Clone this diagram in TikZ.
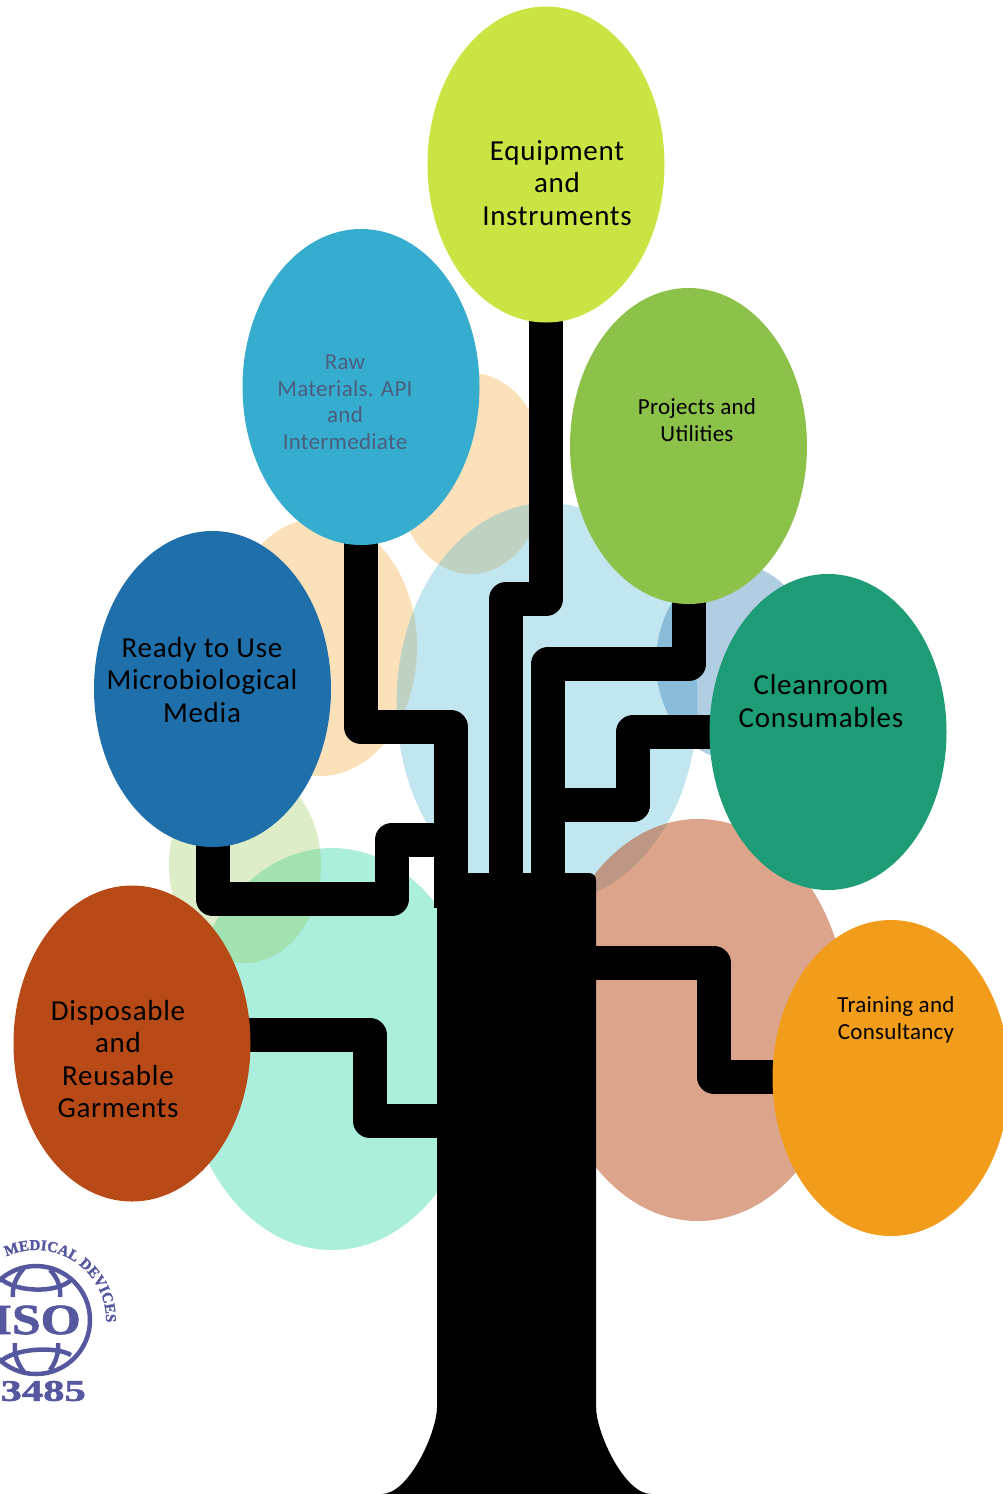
\documentclass[tikz,border=0pt]{standalone}
\usepackage{fontspec}
\setmainfont{Carlito}[LetterSpace=2.5]
\newfontfamily\smallfont{Carlito}[LetterSpace=1.2]
\newfontfamily\isofont{Liberation Serif}[BoldFeatures={FakeBold=1.5}]
\usetikzlibrary{backgrounds,decorations.text,shapes.geometric}
\definecolor{equipcol}{HTML}{CBE444}
\definecolor{rawcol}{HTML}{36ACCE}
\definecolor{projcol}{HTML}{8CC24A}
\definecolor{readycol}{HTML}{1F6FAB}
\definecolor{cleancol}{HTML}{1E9C78}
\definecolor{dispcol}{HTML}{B84A18}
\definecolor{traincol}{HTML}{F29C1B}
\definecolor{mintcol}{HTML}{30D5A8}
\definecolor{isocol}{HTML}{55589F}
\definecolor{dimcol}{HTML}{4A5F80}
\tikzstyle{leaf} = [draw=none,ellipse,inner sep=0pt,minimum width=237pt,minimum height=316pt]
\tikzstyle{shade} = [draw=none,ellipse,inner sep=0pt,fill opacity=0.3]
\tikzstyle{branch} = [line width=34pt,line join=round,black]
\tikzstyle{bigtext} = [align=center,font=\fontsize{29}{32.5}\selectfont]
\tikzstyle{smalltext} = [align=center,font=\smallfont\fontsize{23}{26.5}\selectfont]
\tikzstyle{globe} = [isocol,line width=4.5pt]

\begin{document}
\begin{tikzpicture}[x=1pt,y=-1pt]
        \useasboundingbox (0,0) rectangle (1002,1494);

        \node[leaf, fill=equipcol] at (546,164.5) (equip) {};
        \node[leaf, fill=rawcol] at (361,387) (raw) {};
        \node[leaf, fill=projcol] at (688.5,446) (proj) {};
        \node[leaf, fill=readycol] at (212.5,689) (ready) {};
        \node[leaf, fill=cleancol] at (828,732) (clean) {};
        \node[leaf, fill=dispcol] at (132,1043.5) (disp) {};
        \node[leaf, fill=traincol] at (891,1078) (train) {};

        \node[fill=black, rounded corners=7pt, inner sep=0pt, minimum width=159pt, minimum height=621pt] at (516.5,1183.5) (trunk) {};
        \fill[black] (437,1408) .. controls (436,1435) and (408,1494) .. (382,1494) -- (651,1494) .. controls (625,1494) and (597,1435) .. (596,1408) -- cycle;

        \begin{scope}[on background layer]
        \node[shade, fill=traincol, minimum width=150pt, minimum height=201pt] at (471,473.5) (peachtop) {};
        \node[shade, fill=traincol, minimum width=194pt, minimum height=258pt] at (320,647) (peachleft) {};
        \node[shade, fill=rawcol, minimum width=301pt, minimum height=400pt] at (547,703) (bluemid) {};
        \node[shade, fill=readycol, fill opacity=0.35, minimum width=158pt, minimum height=196pt] at (735,662) (blueright) {};
        \node[shade, fill=dispcol, fill opacity=0.5, minimum width=300pt, minimum height=402pt] at (698,1020) (salmon) {};
        \node[shade, fill=mintcol, fill opacity=0.4, minimum width=300pt, minimum height=402pt] at (332,1049) (mint) {};
        \node[shade, fill=projcol, minimum width=152pt, minimum height=196pt] at (245,865) (paleleaf) {};

        \draw[branch] (equip.center) |- (506,599) -- (506,880);
        \draw[branch] (raw.center) |- (451,727) -- (451,908);
        \draw[branch] (proj.center) |- (548,664) -- (548,880);
        \draw[branch] (clean.center) -| (633,805) -- (548,805);
        \draw[branch] (ready.center) |- (392,899) |- (451,839.5);
        \draw[branch] ([yshift=8.5pt]disp.center) -| (370,1121) -- (trunk.center |- 370,1121);
        \draw[branch] (trunk.center |- 714,963) -| (714,1077) -- (train.center |- 714,1077);
        \end{scope}

        \node[bigtext] at (557,183) (equiplabel) {Equipment\\and\\Instruments};
        \node[smalltext, text=dimcol] at (345,402) (rawlabel) {Raw\\Materials. API\\and\\Intermediate};
        \node[smalltext] at (697,420) (projlabel) {Projects and\\Utilities};
        \node[bigtext] at (202,680) (readylabel) {Ready to Use\\Microbiological\\Media};
        \node[bigtext] at (821,701) (cleanlabel) {Cleanroom\\Consumables};
        \node[bigtext] at (118,1059) (displabel) {Disposable\\and\\Reusable\\Garments};
        \node[smalltext] at (896,1020) (trainlabel) {Training and\\Consultancy};

        \coordinate (isocentre) at (36,1320);
        \draw[globe] (isocentre) circle [radius=54];
        \draw[globe] (0,1278) .. controls (14,1292) and (56,1294) .. (71,1280);
        \draw[globe] (24,1268) .. controls (15,1278) and (12,1288) .. (13,1297);
        \draw[globe] (50,1270) .. controls (58,1278) and (61,1288) .. (60,1297);
        \draw[globe] (0,1362) .. controls (14,1348) and (56,1346) .. (71,1355);
        \draw[globe] (15,1343) .. controls (14,1352) and (16,1362) .. (24,1372);
        \draw[globe] (58,1343) .. controls (59,1352) and (56,1362) .. (50,1370);
        \node[text=isocol, font=\isofont\bfseries\fontsize{43}{43}\selectfont, anchor=east, inner sep=0pt] at (81,1320) (isolabel) {\scalebox{1.2}[1]{ISO}};
        \node[text=isocol, font=\isofont\bfseries\fontsize{30}{30}\selectfont, anchor=east, inner sep=0pt] at (86,1391) (isonumber) {\scalebox{1.42}[1]{13485}};
        \path[decorate, decoration={text along path, text color=isocol, text={|\isofont\bfseries\fontsize{15}{15}\selectfont|MEDICAL DEVICES}}] (6.4,1256.6) .. controls (54.3,1234.3) and (108.6,1271) .. (105.9,1323.7);
\end{tikzpicture}
\end{document}
